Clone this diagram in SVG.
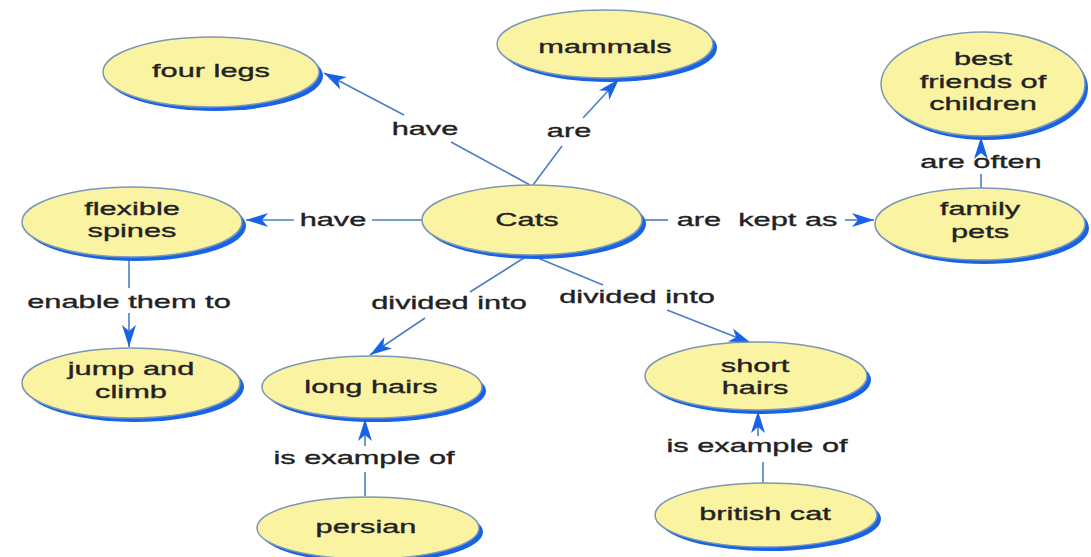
<svg xmlns="http://www.w3.org/2000/svg" width="1091" height="557" viewBox="0 0 1091 557">
<defs>
<style>
.sh{fill:#1763e6;}
.nd{fill:#faf3a2;stroke:#7d97b5;stroke-width:1.5;}
.t{font-family:"Liberation Sans",Arial,sans-serif;font-size:19px;fill:#222222;stroke:#222222;stroke-width:0.35;text-anchor:middle;white-space:pre;}
.c{stroke:#4b7fc4;stroke-width:1.6;fill:none;}
.a{stroke:#4b7fc4;stroke-width:1.6;fill:none;marker-end:url(#ah);}
</style>
<marker id="ah" markerUnits="userSpaceOnUse" markerWidth="24" markerHeight="16" refX="22" refY="8" orient="auto">
<path d="M0,1 L22,8 L0,15 L6,8 z" fill="#1763e6"/>
</marker>
</defs>
<rect width="1091" height="557" fill="#ffffff"/>
<g id="connectors">
<line class="c" x1="530" y1="185" x2="451" y2="142"/>
<line class="a" x1="404" y1="115" x2="324" y2="73"/>
<line class="c" x1="533" y1="185" x2="562" y2="146"/>
<line class="a" x1="583" y1="118" x2="619" y2="79"/>
<line class="c" x1="422" y1="220" x2="372" y2="220"/>
<line class="a" x1="294" y1="220" x2="246" y2="220"/>
<line class="c" x1="642" y1="220" x2="668" y2="220"/>
<line class="a" x1="845" y1="220" x2="874" y2="220"/>
<line class="c" x1="981" y1="188" x2="981" y2="174"/>
<line class="a" x1="981" y1="152" x2="981" y2="137"/>
<line class="c" x1="129" y1="258" x2="129" y2="288"/>
<line class="a" x1="129" y1="313" x2="129" y2="347"/>
<line class="c" x1="527" y1="256" x2="470" y2="292"/>
<line class="a" x1="425" y1="318" x2="370" y2="355"/>
<line class="c" x1="533" y1="256" x2="603" y2="285"/>
<line class="a" x1="667" y1="310" x2="751" y2="343"/>
<line class="c" x1="365" y1="496" x2="365" y2="472"/>
<line class="a" x1="365" y1="446" x2="365" y2="419"/>
<line class="c" x1="763" y1="483" x2="763" y2="462"/>
<line class="a" x1="758" y1="436" x2="758" y2="411"/>
</g>
<g id="label-have-1"><text class="t" transform="translate(425,135) scale(1.62,1)">have</text></g>
<g id="label-are"><text class="t" transform="translate(569,137) scale(1.62,1)">are</text></g>
<g id="label-have-2"><text class="t" transform="translate(333,226) scale(1.62,1)">have</text></g>
<g id="label-kept"><text class="t" transform="translate(757,226) scale(1.62,1)">are  kept as</text></g>
<g id="label-often"><text class="t" transform="translate(981,168) scale(1.62,1)">are often</text></g>
<g id="label-enable"><text class="t" transform="translate(129,308) scale(1.62,1)">enable them to</text></g>
<g id="label-divided-1"><text class="t" transform="translate(449,309) scale(1.62,1)">divided into</text></g>
<g id="label-divided-2"><text class="t" transform="translate(637,303) scale(1.62,1)">divided into</text></g>
<g id="label-example-1"><text class="t" transform="translate(364,464) scale(1.62,1)">is example of</text></g>
<g id="label-example-2"><text class="t" transform="translate(757,452) scale(1.62,1)">is example of</text></g>

<g id="node-fourlegs">
<ellipse class="sh" cx="215" cy="76" rx="108" ry="35"/>
<ellipse class="nd" cx="211" cy="72" rx="108" ry="35"/>
<text class="t" transform="translate(211,77) scale(1.62,1)">four legs</text>
</g>
<g id="node-mammals">
<ellipse class="sh" cx="609" cy="48" rx="108" ry="34"/>
<ellipse class="nd" cx="605" cy="44" rx="108" ry="34"/>
<text class="t" transform="translate(605,53) scale(1.62,1)">mammals</text>
</g>
<g id="node-bestfriends">
<ellipse class="sh" cx="986" cy="88" rx="102" ry="52"/>
<ellipse class="nd" cx="983" cy="84" rx="102" ry="52"/>
<text class="t" transform="translate(983,0) scale(1.62,1)"><tspan x="0" y="65">best</tspan><tspan x="0" y="88">friends of</tspan><tspan x="0" y="110">children</tspan></text>
</g>
<g id="node-familypets">
<ellipse class="sh" cx="984" cy="228" rx="105" ry="36"/>
<ellipse class="nd" cx="980" cy="224" rx="105" ry="36"/>
<text class="t" transform="translate(980,0) scale(1.62,1)"><tspan x="0" y="215">family</tspan><tspan x="0" y="238">pets</tspan></text>
</g>
<g id="node-flexible">
<ellipse class="sh" cx="136" cy="226" rx="110" ry="35"/>
<ellipse class="nd" cx="132" cy="222" rx="110" ry="35"/>
<text class="t" transform="translate(132,0) scale(1.62,1)"><tspan x="0" y="215">flexible</tspan><tspan x="0" y="237">spines</tspan></text>
</g>
<g id="node-jump">
<ellipse class="sh" cx="135" cy="387" rx="109" ry="35"/>
<ellipse class="nd" cx="131" cy="383" rx="109" ry="35"/>
<text class="t" transform="translate(131,0) scale(1.62,1)"><tspan x="0" y="375">jump and</tspan><tspan x="0" y="398">climb</tspan></text>
</g>
<g id="node-cats">
<ellipse class="sh" cx="536" cy="224" rx="110" ry="35"/>
<ellipse class="nd" cx="532" cy="220" rx="110" ry="35"/>
<text class="t" transform="translate(527,226) scale(1.62,1)">Cats</text>
</g>
<g id="node-longhairs">
<ellipse class="sh" cx="376" cy="391" rx="110" ry="31"/>
<ellipse class="nd" cx="372" cy="387" rx="110" ry="31"/>
<text class="t" transform="translate(371,393) scale(1.62,1)">long hairs</text>
</g>
<g id="node-persian">
<ellipse class="sh" cx="372" cy="532" rx="111" ry="31"/>
<ellipse class="nd" cx="368" cy="528" rx="111" ry="31"/>
<text class="t" transform="translate(366,533) scale(1.62,1)">persian</text>
</g>
<g id="node-shorthairs">
<ellipse class="sh" cx="760" cy="380" rx="111" ry="34"/>
<ellipse class="nd" cx="756" cy="376" rx="111" ry="34"/>
<text class="t" transform="translate(755,0) scale(1.62,1)"><tspan x="0" y="372">short</tspan><tspan x="0" y="394">hairs</tspan></text>
</g>
<g id="node-british">
<ellipse class="sh" cx="770" cy="519" rx="111" ry="32"/>
<ellipse class="nd" cx="766" cy="515" rx="111" ry="32"/>
<text class="t" transform="translate(765,520) scale(1.62,1)">british cat</text>
</g>
</svg>
